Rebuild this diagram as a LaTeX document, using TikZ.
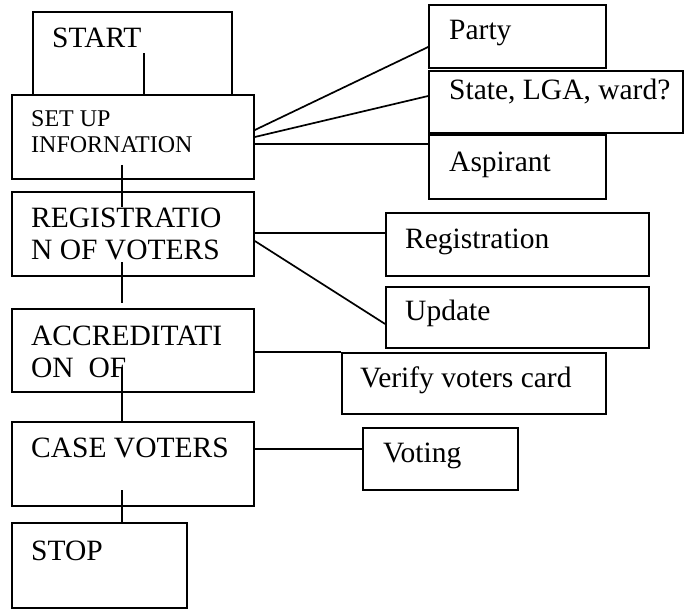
\documentclass[tikz,border=0pt]{standalone}
\usepackage{fontspec}
\setmainfont{Liberation Serif}

\tikzset{
    box/.style={draw, rectangle, line width=1.7pt, inner sep=0pt},
    txt/.style={anchor=base west, inner sep=0pt, align=left, font=\fontsize{29.5}{31.5}\selectfont},
    smalltxt/.style={txt, font=\fontsize{24}{26}\selectfont},
    link/.style={line width=1.7pt}
}

\begin{document}
\begin{tikzpicture}[x=1pt, y=-1pt]
    \useasboundingbox (0,0) rectangle (684,609);

    % Draw the main column of boxes
    \node[box, minimum width=199pt, minimum height=83pt] (start) at (132.5,53.5) {};
    \node[box, fill=white, minimum width=242pt, minimum height=84pt] (setup) at (133,137) {};
    \node[box, minimum width=242pt, minimum height=84pt] (reg) at (133,234) {};
    \node[box, minimum width=242pt, minimum height=83pt] (acc) at (133,350.5) {};
    \node[box, minimum width=242pt, minimum height=84pt] (case) at (133,464) {};
    \node[box, minimum width=175pt, minimum height=85pt] (stop) at (99.5,565.5) {};

    % Draw the boxes on the right
    \node[box, minimum width=177pt, minimum height=63pt] (party) at (517.5,36.5) {};
    \node[box, fill=white, minimum width=254pt, minimum height=62pt] (state) at (556,102) {};
    \node[box, minimum width=177pt, minimum height=64pt] (aspirant) at (517.5,167) {};
    \node[box, minimum width=263pt, minimum height=63pt] (regi) at (517.5,244.5) {};
    \node[box, minimum width=263pt, minimum height=61pt] (update) at (517.5,317.5) {};
    \node[box, minimum width=264pt, minimum height=61pt] (verify) at (474,383.5) {};
    \node[box, minimum width=155pt, minimum height=62pt] (voting) at (440.5,459) {};

    % Place the texts of the boxes (two-line texts sit on their last line)
    \node[txt] (start-txt) at (52,48) {START};
    \node[smalltxt] (setup-txt) at (31,153) {SET UP\\INFORNATION};
    \node[txt] (reg-txt) at (31,259) {REGISTRATIO\\N OF VOTERS};
    \node[txt] (acc-txt) at (31,377) {ACCREDITATI\\ON~~OF};
    \node[txt] (case-txt) at (31,457) {CASE VOTERS};
    \node[txt] (stop-txt) at (31,560) {STOP};
    \node[txt] (party-txt) at (449,40) {Party};
    \node[txt] (state-txt) at (449,100) {State, LGA, ward?};
    \node[txt] (aspirant-txt) at (449,172) {Aspirant};
    \node[txt] (regi-txt) at (405,248) {Registration};
    \node[txt] (update-txt) at (405,320) {Update};
    \node[txt] (verify-txt) at (360,387) {Verify voters card};
    \node[txt] (voting-txt) at (383,462) {Voting};

    % Draw the links down the column
    \coordinate (start-c) at ([xshift=11.5pt]start.center);
    \draw[link] (start-c) -- (start-c |- setup.north);
    \draw[link] ([xshift=-11pt,yshift=-28pt]setup.center) -- ([xshift=-11pt,yshift=-16pt]reg.north);
    \draw[link] ([xshift=-11pt,yshift=-28pt]reg.center) -- ([xshift=-11pt,yshift=5pt]acc.north);
    \draw[link] ([xshift=-11pt,yshift=-16.5pt]acc.center) -- ([xshift=-11pt]case.north);
    \coordinate (case-c) at ([xshift=-11pt,yshift=-26pt]case.center);
    \draw[link] (case-c) -- (case-c |- stop.north);

    % Draw the links to the right
    \draw[link] ([yshift=7pt]setup.east) -- ([yshift=-10.5pt]party.west);
    \draw[link] (setup.east) -- ([yshift=6pt]state.west);
    \coordinate (setup-e) at ([yshift=-7pt]setup.east);
    \draw[link] (setup-e) -- (setup-e -| aspirant.west);
    \coordinate (reg-e) at ([yshift=1pt]reg.east);
    \draw[link] (reg-e) -- (reg-e -| regi.west);
    \draw[link] ([yshift=-7pt]reg.east) -- ([yshift=-6.5pt]update.west);
    \coordinate (acc-e) at ([yshift=-1.5pt]acc.east);
    \draw[link] (acc-e) -- (acc-e -| verify.west);
    \coordinate (case-e) at ([yshift=15pt]case.east);
    \draw[link] (case-e) -- (case-e -| voting.west);

\end{tikzpicture}
\end{document}
